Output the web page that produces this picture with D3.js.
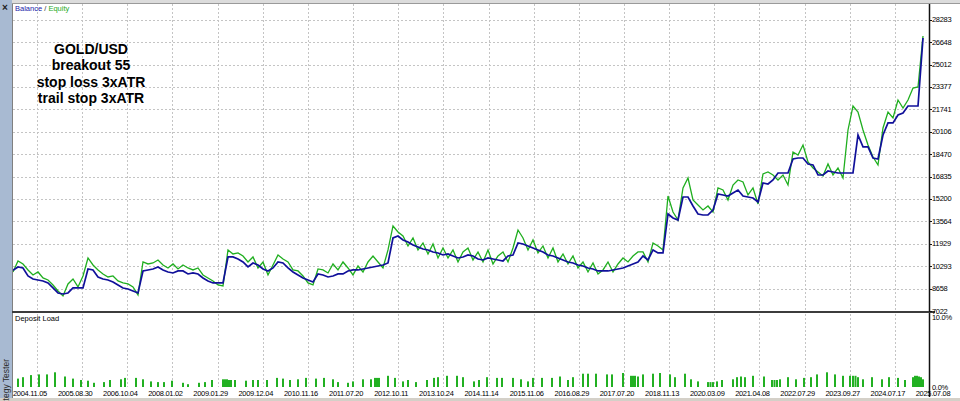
<!DOCTYPE html>
<html><head><meta charset="utf-8">
<script src="https://cdn.jsdelivr.net/npm/d3@7"></script>
<style>html,body{margin:0;padding:0;background:#fff;overflow:hidden}</style>
</head><body>
<svg id="c" width="960" height="401"></svg>
<script>
const dateLabels = ["2004.11.05","2005.08.30","2006.10.04","2008.01.02","2009.01.29","2009.12.04","2010.11.16","2011.07.20","2012.10.11","2013.10.24","2014.11.14","2015.11.06","2016.08.29","2017.07.20","2018.11.13","2020.03.09","2021.04.08","2022.07.29","2023.09.27","2024.07.17","2025.07.08"];
const yTicks = [7022,8658,10293,11929,13564,15200,16835,18470,20106,21741,23377,25012,26648,28283];
const loadTicks = ["0.0%","10.0%"];
const titleLines = ["GOLD/USD","breakout 55","stop loss 3xATR","trail stop 3xATR"];

const balance = [
10000,10237,10164,9580,9361,9288,9215,9069,8704,8339,
8266,8339,8704,8704,8704,10091,10018,9507,9361,9288,
9142,8923,8704,8631,8485,8339,9945,10018,10091,10237,
10018,9872,9799,9945,9945,9726,9799,9726,9434,9215,
9069,9069,9069,10967,10967,10821,10602,10237,10529,10383,
10091,9945,10164,10602,10529,10164,9872,9653,9434,9288,
9142,9726,9653,9507,9580,9726,9726,9945,10018,10018,
10091,10164,10237,10310,10383,10529,12354,12500,12208,12062,
11843,11697,11551,11478,11332,11259,11113,11186,11040,10894,
10967,11113,11040,10821,10748,10894,10821,10748,10675,11040,
11113,11989,11916,11770,11624,11478,11332,11113,11040,10894,
10748,10602,10529,10383,10310,10164,10091,9945,9945,9945,
10018,10091,10164,10310,10456,10602,11040,10748,11478,11259,
11259,14106,13814,13668,15347,15347,14690,14106,14033,14033,
14398,15566,15493,15420,15639,15858,15420,15347,15274,14982,
16369,16296,16588,17099,17099,17099,18121,18194,18194,17756,
17683,16953,16953,17245,17172,17099,17099,17099,17099,19873,
19003,19003,18194,18121,19873,20752,20752,21333,21479,21990,
21990,21990,26954];

const equity = [
9872,10675,10456,10018,9653,9872,9434,9288,8923,8485,
8120,8996,9361,8777,9580,10894,10383,10018,9726,9507,
9580,9215,9069,8996,8777,8193,10602,10456,10529,10748,
10383,10164,10456,10091,10383,10164,10018,10164,9653,9434,
9215,8923,8850,11478,11186,11259,11040,10602,10967,10164,
10602,9653,10383,11113,10821,10602,10018,9945,9580,9069,
8923,10091,10018,9799,10456,10018,10602,10164,9653,10310,
9872,10602,11040,10602,10164,11478,13230,12792,12500,11770,
12354,11478,11989,11186,11916,10894,11624,10894,11478,10602,
11332,11624,10748,11332,10602,11478,10456,11040,11332,10602,
11624,12938,12354,11478,12208,11259,11770,10894,11624,10602,
11186,10456,11040,10164,10602,9872,10529,9726,10018,10602,
9872,10456,10894,10602,11040,11332,11332,10602,11989,11770,
11478,15420,14252,13668,16004,16734,15128,14763,14398,14690,
14252,16004,15858,15128,16223,16588,16442,15493,16004,14836,
17026,17172,16953,16588,16953,16223,18632,18413,19143,17902,
17464,17172,16880,17756,16953,17464,16734,20238,21990,21552,
20238,19143,18267,17683,20384,21552,21114,22428,21844,22428,
23304,23377,27100];

const loadAt = [1.0,2.0,3.6,5.2,6.8,8.4,10.4,12.0,13.6,15.0,16.2,18.2,19.4,21.6,22.4,24.6,26.0,27.6,29.0,30.2,31.8,34.0,35.0,37.2,38.4,39.8,42.0,42.4,42.8,43.2,43.6,44.4,46.6,48.0,49.0,50.8,52.8,54.0,55.4,57.0,58.6,60.6,
62.2,64.0,65.0,67.0,68.0,70.0,71.6,72.4,72.8,73.2,75.0,76.4,78.0,79.0,80.6,82.8,84.2,85.0,86.8,88.8,90.0,92.2,93.2,94.8,96.8,97.8,100.0,101.6,103.0,104.0,105.8,107.8,109.4,111.0,112.0,114.0,115.0,116.6,118.8,119.8,122.0,123.6,124.0,124.4,125.0,
126.0,128.0,129.4,131.4,132.4,134.4,135.6,137.0,139.0,139.5,140.0,140.8,141.8,144.0,144.8,145.6,146.4,148.0,150.2,151.8,152.3,152.8,153.4,155.0,156.6,158.2,159.6,160.8,162.8,164.4,166.0,167.4,168.0,168.5,169.0,170.0,171.8,173.8,175.2,177.0,178.4,180.0,180.4,180.8,181.2,181.6,182.0];
const loadPct = [1.2,1.4,1.7,1.8,1.8,2.1,1.5,1.2,1.0,0.9,0.6,0.7,1.0,1.1,1.3,1.3,1.1,0.8,0.7,0.7,0.9,0.6,0.4,0.6,0.7,1.0,1.1,1.1,1.1,1.0,1.0,1.0,0.9,1.0,1.0,1.0,1.3,1.2,1.0,1.1,1.3,1.2,
1.3,1.1,0.7,0.6,0.8,1.1,1.1,1.3,1.3,1.3,1.6,1.3,0.8,1.0,0.7,1.0,1.3,1.4,1.6,1.6,1.4,0.8,1.0,1.4,1.3,1.3,1.3,1.1,0.8,1.3,1.3,1.3,1.5,1.0,1.4,1.9,1.9,1.9,1.8,1.8,2.0,1.6,1.6,1.6,1.5,
1.8,1.9,2.0,1.8,1.4,1.9,1.1,0.8,0.7,0.7,0.7,0.8,1.0,1.1,1.4,1.5,1.4,1.6,1.5,1.0,1.0,1.0,1.1,1.4,1.1,1.3,1.4,1.8,2.1,1.8,1.6,1.6,1.6,1.6,1.4,1.1,1.4,1.1,1.4,1.3,1.0,1.4,1.6,1.6,1.5,1.4,1.1];

const svg = d3.select('#c');
const FONT = '"Liberation Sans", Arial, sans-serif';
const PL = 13, PR = 929, PT = 4, PB = 311, LT = 317, LB = 387;

const x = d3.scaleLinear().domain([0, balance.length - 1]).range([PL, 923]);
const y = d3.scaleLinear().domain([7022, 29437]).range([PB, PT]);
const ly = d3.scaleLinear().domain([0, 10]).range([LB, LT]);
const gx = d3.scaleLinear().domain([0, dateLabels.length - 1]).range([37, 940]);

svg.append('rect').attr('width', 960).attr('height', 401).attr('fill', '#fff');
svg.append('rect').attr('width', 960).attr('height', 3).attr('fill', '#dcdcdc');
svg.append('rect').attr('width', 12).attr('height', 401).attr('fill', '#a8bad2');
svg.append('rect').attr('y', 398).attr('width', 960).attr('height', 3).attr('fill', '#d4d0c8');
svg.append('line').attr('x1', 12.5).attr('x2', 12.5).attr('y1', 3).attr('y2', 398).attr('stroke', '#808080');
svg.append('line').attr('x1', 12).attr('x2', 960).attr('y1', 3.5).attr('y2', 3.5).attr('stroke', '#9a9a9a');

// grids
const grid = svg.append('g').attr('stroke', '#c4c4c4').attr('stroke-dasharray', '2,2').attr('stroke-width', 1);
yTicks.forEach(v => {
  const yy = Math.round(y(v)) + 0.5;
  grid.append('line').attr('x1', PL).attr('x2', PR).attr('y1', yy).attr('y2', yy);
});
dateLabels.forEach((d, i) => {
  const xx = Math.round(gx(i)) + 0.5;
  if (xx > PR) return;
  grid.append('line').attr('x1', xx).attr('x2', xx).attr('y1', PT).attr('y2', PB);
  grid.append('line').attr('x1', xx).attr('x2', xx).attr('y1', 314).attr('y2', LB);
});

// clip
svg.append('clipPath').attr('id', 'pc').append('rect').attr('x', PL).attr('y', PT).attr('width', PR - PL).attr('height', PB - PT);

const line = d3.line().x((d, i) => x(i)).y(d => y(d));
svg.append('path').datum(equity).attr('d', line).attr('fill', 'none')
  .attr('stroke', '#1fae1f').attr('stroke-width', 1.3).attr('clip-path', 'url(#pc)');
svg.append('path').datum(balance).attr('d', line).attr('fill', 'none')
  .attr('stroke', '#10109a').attr('stroke-width', 1.7).attr('clip-path', 'url(#pc)');

// deposit load bars
svg.append('g').selectAll('rect').data(loadAt).join('rect')
  .attr('x', d => x(d) - 1).attr('width', 2)
  .attr('y', (d, i) => ly(loadPct[i])).attr('height', (d, i) => ly(0) - ly(loadPct[i]))
  .attr('fill', '#22b022');

// axes lines
svg.append('line').attr('x1', PR + 0.5).attr('x2', PR + 0.5).attr('y1', PT).attr('y2', 397).attr('stroke', '#111').attr('stroke-width', 1.5);
svg.append('line').attr('x1', 12).attr('x2', 935).attr('y1', 312).attr('y2', 312).attr('stroke', '#3c3c3c').attr('stroke-width', 2);

// y labels
const yl = svg.append('g').attr('font-family', FONT).attr('font-size', '7.5px').attr('fill', '#000').attr('letter-spacing', '-0.3px');
yTicks.forEach(v => {
  yl.append('line').attr('x1', PR).attr('x2', PR + 3).attr('y1', Math.round(y(v)) + 0.5).attr('y2', Math.round(y(v)) + 0.5).attr('stroke', '#111');
  yl.append('text').attr('x', 932).attr('y', y(v) + 2.5).text(v);
});
yl.append('text').attr('x', 932).attr('y', ly(10) + 2.5).text(loadTicks[1]);
yl.append('text').attr('x', 932).attr('y', ly(0) + 2.5).text(loadTicks[0]);

// x labels
const xl = svg.append('g').attr('font-family', FONT).attr('font-size', '7.5px').attr('fill', '#000').attr('letter-spacing', '-0.3px').attr('text-anchor', 'middle');
dateLabels.forEach((d, i) => xl.append('text').attr('x', gx(i) - 7).attr('y', 396).text(d));

// small captions
const cap = svg.append('text').attr('x', 15).attr('y', 11).attr('font-family', FONT).attr('font-size', '7.5px');
cap.append('tspan').attr('fill', '#1a1aa8').text('Balance');
cap.append('tspan').attr('fill', '#333').text(' / ');
cap.append('tspan').attr('fill', '#1faa1f').text('Equity');
svg.append('text').attr('x', 15).attr('y', 321).attr('font-family', FONT).attr('font-size', '7.5px').attr('fill', '#000').text('Deposit Load');

// title
const tt = svg.append('g').attr('font-family', FONT).attr('font-size', '14px').attr('font-weight', 'bold').attr('text-anchor', 'middle').attr('fill', '#000');
titleLines.forEach((t, i) => tt.append('text').attr('x', 91).attr('y', 54 + i * 16.3).text(t));

// left strip texts
svg.append('text').attr('x', 2).attr('y', 11).attr('font-family', FONT).attr('font-size', '10px').attr('font-weight', 'bold').attr('fill', '#222').text('×');
svg.append('text').attr('transform', 'translate(9,359) rotate(-90)').attr('text-anchor', 'end')
  .attr('font-family', FONT).attr('font-size', '8.5px').attr('fill', '#2a2a2a').text('Strategy Tester');
</script>
</body></html>
